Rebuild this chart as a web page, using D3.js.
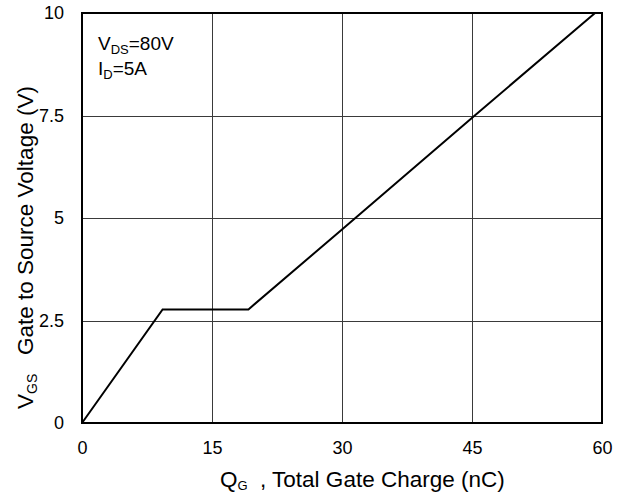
<!DOCTYPE html>
<html>
<head>
<meta charset="utf-8">
<script src="https://cdn.jsdelivr.net/npm/d3@7"></script>
<style>
  html, body { margin: 0; padding: 0; background: #fff; }
  svg { display: block; font-family: "Liberation Sans", Arial, sans-serif; }
</style>
</head>
<body>
<svg id="chart" width="624" height="492"></svg>
<script>
// Gate charge curve: total gate charge (nC) vs gate-to-source voltage (V)
const gateCharge = [0, 9.3, 19.2, 30, 45.15, 59.2];
const gateVoltage = [0, 2.77, 2.77, 4.72, 7.47, 10];

const xTickValues = [0, 15, 30, 45, 60];
const yTickValues = [0, 2.5, 5, 7.5, 10];
const yTickLabels = ["0", "2.5", "5", "7.5", "10"];

const svg = d3.select("#chart");
const margin = { left: 82, top: 13 };
const width = 520, height = 410;
const FONT = "Liberation Sans, Arial, sans-serif";

const x = d3.scaleLinear().domain([0, 60]).range([margin.left, margin.left + width]);
const y = d3.scaleLinear().domain([0, 10]).range([margin.top + height, margin.top]);

// grid lines
const grid = svg.append("g").attr("stroke", "#3a3a3a").attr("stroke-width", 1);
grid.selectAll("line.gx")
  .data(xTickValues.filter(d => d > 0 && d < 60))
  .join("line")
  .attr("x1", d => Math.round(x(d)) + 0.5).attr("x2", d => Math.round(x(d)) + 0.5)
  .attr("y1", y(10)).attr("y2", y(0));
grid.selectAll("line.gy")
  .data(yTickValues.filter(d => d > 0 && d < 10))
  .join("line")
  .attr("y1", d => Math.round(y(d)) + 0.5).attr("y2", d => Math.round(y(d)) + 0.5)
  .attr("x1", x(0)).attr("x2", x(60));

// frame
svg.append("rect")
  .attr("x", x(0)).attr("y", y(10))
  .attr("width", x(60) - x(0)).attr("height", y(0) - y(10))
  .attr("fill", "none").attr("stroke", "#000").attr("stroke-width", 2);

// axes (labels only; frame and grid drawn above)
const xAxis = d3.axisBottom(x).tickValues(xTickValues).tickSize(0).tickPadding(18)
  .tickFormat(d3.format("d"));
const gx = svg.append("g").attr("transform", `translate(0,${y(0)})`).call(xAxis);
gx.select(".domain").remove();
gx.selectAll("text").attr("font-size", 18).attr("font-family", FONT).attr("fill", "#000");

const yAxis = d3.axisLeft(y).tickValues(yTickValues).tickSize(0).tickPadding(18)
  .tickFormat((d, i) => yTickLabels[i]);
const gy = svg.append("g").attr("transform", `translate(${x(0)},0)`).call(yAxis);
gy.select(".domain").remove();
gy.selectAll("text").attr("font-size", 18).attr("font-family", FONT).attr("fill", "#000");

// curve
const points = gateCharge.map((q, i) => [q, gateVoltage[i]]);
svg.append("path")
  .datum(points)
  .attr("fill", "none")
  .attr("stroke", "#000")
  .attr("stroke-width", 2)
  .attr("stroke-linejoin", "miter")
  .attr("d", d3.line().x(d => x(d[0])).y(d => y(d[1])));

// test conditions
const cond = svg.append("g").attr("font-size", 19).attr("fill", "#000");
const c1 = cond.append("text").attr("x", 98).attr("y", 50);
c1.append("tspan").text("V");
c1.append("tspan").attr("font-size", 13).attr("dy", 4).text("DS");
c1.append("tspan").attr("dy", -4).text("=80V");
const c2 = cond.append("text").attr("x", 98).attr("y", 75);
c2.append("tspan").text("I");
c2.append("tspan").attr("font-size", 13).attr("dy", 4).text("D");
c2.append("tspan").attr("dy", -4).text("=5A");

// x axis title
const xt = svg.append("text").attr("x", 220).attr("y", 487).attr("font-size", 22.5).attr("fill", "#000");
xt.append("tspan").text("Q");
xt.append("tspan").attr("font-size", 13).attr("dy", 3).text("G");
xt.append("tspan").attr("x", 260).attr("dy", -3).text(", Total Gate Charge (nC)");

// y axis title
const yt = svg.append("text").attr("transform", "rotate(-90)")
  .attr("x", -409).attr("y", 33).attr("font-size", 22.5).attr("fill", "#000");
yt.append("tspan").text("V");
yt.append("tspan").attr("font-size", 14).attr("dy", 4).text("GS");
yt.append("tspan").attr("x", -355).attr("dy", -4).text("Gate to Source Voltage (V)");
</script>
</body>
</html>
